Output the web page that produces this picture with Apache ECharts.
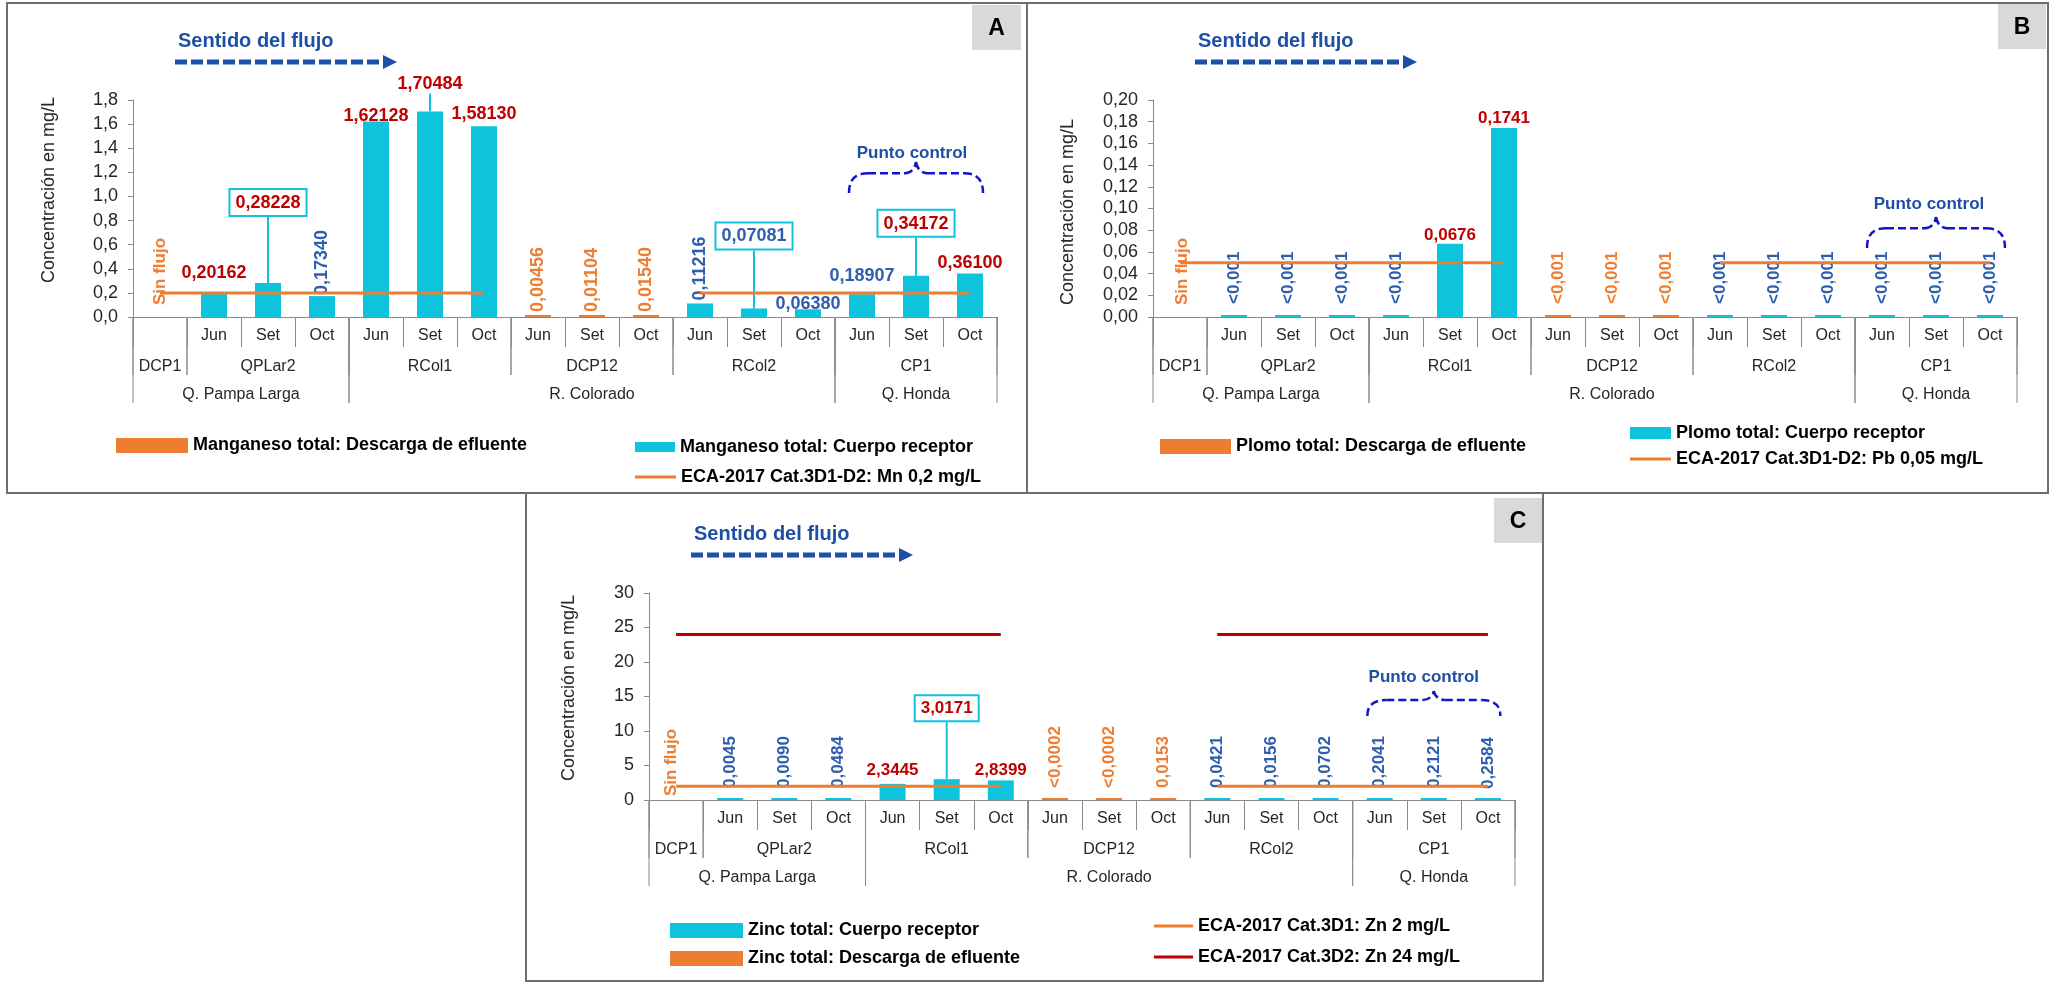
<!DOCTYPE html>
<html lang="es">
<head>
<meta charset="utf-8">
<title>Manganeso, plomo y zinc total</title>
<script src="https://cdn.jsdelivr.net/npm/echarts@6/dist/echarts.min.js"></script>
<style>
  html, body { margin: 0; padding: 0; background: #fff; }
  #chart { width: 2051px; height: 982px; }
</style>
</head>
<body>
<div id="chart"></div>
<script>
// ---- Sampling points ----
const stations = ['DCP1', 'QPLar2', 'RCol1', 'DCP12', 'RCol2', 'CP1'];
const stationMonths = [[''], ['Jun', 'Set', 'Oct'], ['Jun', 'Set', 'Oct'], ['Jun', 'Set', 'Oct'], ['Jun', 'Set', 'Oct'], ['Jun', 'Set', 'Oct']];
const streams = ['Q. Pampa Larga', 'R. Colorado', 'Q. Honda'];
const streamStations = [['DCP1', 'QPLar2'], ['RCol1', 'DCP12', 'RCol2'], ['CP1']];

// ---- Reported concentrations (mg/L), one entry per station/month; '<' = below detection limit ----
const mnDescarga = [null, null, null, null, null, null, null, '0.00456', '0.01104', '0.01540', null, null, null, null, null, null];
const mnReceptor = [null, '0.20162', '0.28228', '0.17340', '1.62128', '1.70484', '1.58130', null, null, null, '0.11216', '0.07081', '0.06380', '0.18907', '0.34172', '0.36100'];
const mnEca = [0.2, 0.2, 0.2, 0.2, 0.2, 0.2, 0.2, null, null, null, 0.2, 0.2, 0.2, 0.2, 0.2, 0.2];

const pbDescarga = [null, null, null, null, null, null, null, '<0.001', '<0.001', '<0.001', null, null, null, null, null, null];
const pbReceptor = [null, '<0.001', '<0.001', '<0.001', '<0.001', '0.0676', '0.1741', null, null, null, '<0.001', '<0.001', '<0.001', '<0.001', '<0.001', '<0.001'];
const pbEca = [0.05, 0.05, 0.05, 0.05, 0.05, 0.05, 0.05, null, null, null, 0.05, 0.05, 0.05, 0.05, 0.05, 0.05];

const znDescarga = [null, null, null, null, null, null, null, '<0.0002', '<0.0002', '0.0153', null, null, null, null, null, null];
const znReceptor = [null, '0.0045', '0.0090', '0.0484', '2.3445', '3.0171', '2.8399', null, null, null, '0.0421', '0.0156', '0.0702', '0.2041', '0.2121', '0.2584'];
const znEcaD1 = [2, 2, 2, 2, 2, 2, 2, null, null, null, 2, 2, 2, 2, 2, 2];
const znEcaD2 = [24, 24, 24, 24, 24, 24, 24, null, null, null, 24, 24, 24, 24, 24, 24];

// ---- Value-label placement per category (pixels relative to the bar top) ----
const V = (gap) => ({ kind: 'v', gap });
const mnPlacement = [null,
  { kind: 'h', gap: 11, dx: 7 }, { kind: 'box', lift: 68 }, V(1),
  { kind: 'h', gap: -3, dx: -3 }, { kind: 'lead', lift: 18 }, { kind: 'h', gap: 3, dx: 4 },
  V(3), V(3), V(3),
  V(3), { kind: 'box', lift: 60 }, { kind: 'h', gap: -4, dx: -2 },
  { kind: 'h', gap: 9, dx: 0 }, { kind: 'box', lift: 40 }, { kind: 'h', gap: 1.5, dx: 1 }];
const pbPlacement = [null,
  V(11), V(11), V(11),
  V(11), { kind: 'h', gap: 0, dx: -3 }, { kind: 'h', gap: 1.5, dx: 3 },
  V(11), V(11), V(11),
  V(11), V(11), V(11),
  V(11), V(11), V(11)];
const znPlacement = [null,
  V(10), V(10), V(10),
  { kind: 'h', gap: 5, dx: 0 }, { kind: 'box', lift: 59 }, { kind: 'h', gap: 2, dx: -14 },
  V(10), V(10), V(10),
  V(10), V(10), V(10),
  V(10), V(10), V(9)];

// ---- Styling ----
const FONT = "'Liberation Sans', Arial, Helvetica, sans-serif";
const CYAN = '#0dc4dc';
const ORANGE = '#ed7d31';
const RED = '#c00000';
const BLUE = '#2e5eae';
const NAVY = '#1e4fa6';
const BRACE = '#1414c8';
const AXIS = '#8a8a8a';
const TEXT = '#262626';
const FRAME = '#6e6e6e';

const categories = [];
stations.forEach((s, i) => stationMonths[i].forEach(m => categories.push(s + '|' + m)));

const panels = [
  {
    letter: 'A', metal: 'Manganeso total', descarga: mnDescarga, receptor: mnReceptor, placement: mnPlacement,
    limit: 0.2, standards: [{ name: 'ECA-2017 Cat.3D1-D2: Mn 0,2 mg/L', data: mnEca, color: ORANGE }],
    yMax: 1.8, yStep: 0.2, decimals: 1, labelSize: 18,
    grid: { left: 133, top: 100, width: 864, height: 217 }, nameGap: 75, namePad: [0, 0, 0, 37],
    frame: [7, 3, 1020, 490], letterBox: [972, 5, 49, 45],
    sinFlujo: { dx: 0, lift: 12 }, punto: { textDx: -4, textDy: 53, braceDy: 62, braceH: 31, braceW: 134 },
    legends: [
      { name: 'Manganeso total: Descarga de efluente', left: 116, top: 436.5, w: 72, h: 15 },
      { name: 'Manganeso total: Cuerpo receptor', left: 635, top: 438, w: 40, h: 10 },
      { name: 'ECA-2017 Cat.3D1-D2: Mn 0,2 mg/L', left: 635, top: 468, w: 41, h: 3 }
    ]
  },
  {
    letter: 'B', metal: 'Plomo total', descarga: pbDescarga, receptor: pbReceptor, placement: pbPlacement,
    limit: 0.05, standards: [{ name: 'ECA-2017 Cat.3D1-D2: Pb 0,05 mg/L', data: pbEca, color: ORANGE }],
    yMax: 0.2, yStep: 0.02, decimals: 2, labelSize: 17,
    grid: { left: 1153, top: 100, width: 864, height: 217 }, nameGap: 76, namePad: [0, 7, 0, 0],
    frame: [1027, 3, 1021, 490], letterBox: [1998, 4, 48, 45],
    sinFlujo: { dx: 2, lift: 12 }, punto: { textDx: -7, textDy: 104, braceDy: 117, braceH: 31, braceW: 138 },
    legends: [
      { name: 'Plomo total: Descarga de efluente', left: 1160, top: 437.5, w: 71, h: 15 },
      { name: 'Plomo total: Cuerpo receptor', left: 1630, top: 424, w: 41, h: 12 },
      { name: 'ECA-2017 Cat.3D1-D2: Pb 0,05 mg/L', left: 1630, top: 450, w: 41, h: 3 }
    ]
  },
  {
    letter: 'C', metal: 'Zinc total', descarga: znDescarga, receptor: znReceptor, placement: znPlacement,
    limit: 2, standards: [
      { name: 'ECA-2017 Cat.3D1: Zn 2 mg/L', data: znEcaD1, color: ORANGE },
      { name: 'ECA-2017 Cat.3D2: Zn 24 mg/L', data: znEcaD2, color: RED }
    ],
    yMax: 30, yStep: 5, decimals: 0, labelSize: 17,
    grid: { left: 649, top: 593, width: 866, height: 207 }, nameGap: 71, namePad: [0, 0, 0, 17],
    frame: [526, 493, 1017, 488], letterBox: [1494, 498, 48, 45],
    sinFlujo: { dx: -5, lift: 4 }, punto: { textDx: -10, textDy: 84, braceDy: 98, braceH: 25, braceW: 133 },
    legends: [
      { name: 'Zinc total: Cuerpo receptor', left: 670, top: 921.5, w: 73, h: 15 },
      { name: 'Zinc total: Descarga de efluente', left: 670, top: 949.5, w: 73, h: 15 },
      { name: 'ECA-2017 Cat.3D1: Zn 2 mg/L', left: 1154, top: 917, w: 39, h: 3 },
      { name: 'ECA-2017 Cat.3D2: Zn 24 mg/L', left: 1154, top: 948, w: 39, h: 3 }
    ]
  }
];

const parseReported = s => parseFloat(s.replace('<', ''));
const toComma = s => s.replace('.', ',');

function makeItem(s, pl, role, p) {
  if (s == null) return null;
  const v = parseReported(s);
  const color = role === 'descarga' ? ORANGE : (v > p.limit ? RED : BLUE);
  const label = {
    show: true, formatter: toComma(s), color, fontWeight: 'bold',
    fontSize: p.labelSize, fontFamily: FONT, position: 'top'
  };
  const item = { value: v, label };
  if (pl.kind === 'v') {
    Object.assign(label, { rotate: 90, align: 'left', verticalAlign: 'middle', distance: pl.gap });
  } else if (pl.kind === 'h') {
    Object.assign(label, { distance: pl.gap, offset: [pl.dx || 0, 0] });
  } else if (pl.kind === 'box') {
    Object.assign(label, { distance: 0, backgroundColor: '#ffffff', borderColor: CYAN, borderWidth: 2, padding: [4, 5, 3, 5] });
    item.labelLine = { show: true, length2: 0, lineStyle: { color: CYAN, width: 2 } };
  } else if (pl.kind === 'lead') {
    Object.assign(label, { distance: 0 });
    item.labelLine = { show: true, length2: 0, lineStyle: { color: CYAN, width: 2 } };
  }
  return item;
}

function barSeries(p, g, role) {
  const reported = role === 'descarga' ? p.descarga : p.receptor;
  return {
    type: 'bar',
    name: p.metal + (role === 'descarga' ? ': Descarga de efluente' : ': Cuerpo receptor'),
    xAxisIndex: g, yAxisIndex: g,
    barWidth: 26, barGap: '-100%', barMinHeight: 2,
    itemStyle: { color: role === 'descarga' ? ORANGE : CYAN },
    data: reported.map((s, i) => makeItem(s, p.placement[i], role, p)),
    labelLayout: params => {
      const pl = p.placement[params.dataIndex];
      return pl && pl.lift ? { dy: -pl.lift } : {};
    }
  };
}

const grids = [], xAxes = [], yAxes = [], series = [], legends = [];
panels.forEach((p, g) => {
  grids.push(Object.assign({ containLabel: false }, p.grid));
  xAxes.push({
    type: 'category', gridIndex: g, data: categories, boundaryGap: true,
    axisLine: { lineStyle: { color: AXIS, width: 1 } },
    axisTick: { show: true, interval: 0, length: 30, lineStyle: { color: AXIS, width: 1 } },
    axisLabel: {
      interval: 0, margin: 11, fontSize: 16, color: TEXT, fontFamily: FONT,
      formatter: v => v.split('|')[1]
    }
  });
  yAxes.push({
    type: 'value', gridIndex: g, min: 0, max: p.yMax, interval: p.yStep,
    axisLine: { show: true, lineStyle: { color: AXIS, width: 1 } },
    axisTick: { show: true, length: 5, lineStyle: { color: AXIS } },
    splitLine: { show: false },
    axisLabel: {
      margin: 15, fontSize: 18, color: TEXT, fontFamily: FONT,
      formatter: v => v.toFixed(p.decimals).replace('.', ',')
    },
    name: 'Concentración en mg/L', nameLocation: 'middle', nameGap: p.nameGap,
    nameTextStyle: { fontSize: 18, color: TEXT, fontFamily: FONT, padding: p.namePad }
  });
  series.push(barSeries(p, g, 'descarga'));
  series.push(barSeries(p, g, 'receptor'));
  p.standards.forEach(st => series.push({
    type: 'line', name: st.name, xAxisIndex: g, yAxisIndex: g, data: st.data,
    symbol: 'none', connectNulls: false, silent: true, z: 3,
    lineStyle: { color: st.color, width: 3 }, itemStyle: { color: st.color }
  }));
  p.legends.forEach(l => legends.push({
    data: [{ name: l.name, icon: 'rect' }],
    left: l.left, top: l.top, padding: 0, itemWidth: l.w, itemHeight: l.h,
    selectedMode: false,
    textStyle: { fontSize: 18, fontWeight: 'bold', color: '#000', fontFamily: FONT }
  }));
});

const chart = echarts.init(document.getElementById('chart'), null, { renderer: 'canvas' });
chart.setOption({
  animation: false,
  backgroundColor: '#ffffff',
  grid: grids, xAxis: xAxes, yAxis: yAxes, legend: legends, series
});

// ---- Annotations and the grouped category axis, placed through the chart's own coordinate system ----
function text(x, y, str, o) {
  return {
    type: 'text', x, y, rotation: o.rot || 0, silent: true, z: 10,
    style: {
      text: str, x: 0, y: 0, fill: o.color || TEXT,
      font: (o.weight || 'normal') + ' ' + o.size + 'px ' + FONT,
      textAlign: o.align || 'center', textVerticalAlign: o.valign || 'middle',
      align: o.align || 'center', verticalAlign: o.valign || 'middle'
    }
  };
}
const line = (x1, y1, x2, y2, stroke, w, dash) => ({
  type: 'line', silent: true, z: 10, shape: { x1, y1, x2, y2 },
  style: { stroke, lineWidth: w, lineDash: dash || null }
});
const curve = (x1, y1, cpx1, cpy1, cpx2, cpy2, x2, y2, stroke, w, dash) => ({
  type: 'bezierCurve', silent: true, z: 10, shape: { x1, y1, cpx1, cpy1, cpx2, cpy2, x2, y2 },
  style: { stroke, fill: null, lineWidth: w, lineDash: dash || null }
});

// dashed curly bracket opening downwards, peak at (cx, top)
function bracket(cx, top, W, H) {
  const mid = top + H * 0.36, bot = top + H, L = cx - W / 2, R = cx + W / 2;
  const st = [BRACE, 2.5, [8, 4]];
  return [
    curve(L, bot, L, mid + H * 0.25, L + 5, mid, L + 19, mid, ...st),
    line(L + 19, mid, cx - 11, mid, ...st),
    curve(cx - 11, mid, cx - 5, mid, cx - 1, mid - H * 0.15, cx, top, ...st),
    curve(cx, top, cx + 1, mid - H * 0.15, cx + 5, mid, cx + 11, mid, ...st),
    line(cx + 11, mid, R - 19, mid, ...st),
    curve(R - 19, mid, R - 5, mid, R, mid + H * 0.25, R, bot, ...st)
  ];
}

const graphics = [];
panels.forEach((p, g) => {
  const c0 = chart.convertToPixel({ gridIndex: g }, [0, 0]);
  const c1 = chart.convertToPixel({ gridIndex: g }, [1, 0]);
  const bw = c1[0] - c0[0];
  const y0 = c0[1];
  const edge = i => c0[0] - bw / 2 + i * bw;
  const center = i => c0[0] + i * bw;

  // frame and panel letter
  const [fx, fy, fw, fh] = p.frame;
  graphics.push({ type: 'rect', silent: true, z: 1, shape: { x: fx, y: fy, width: fw, height: fh }, style: { fill: 'none', stroke: FRAME, lineWidth: 2 } });
  const [lx, ly, lw, lh] = p.letterBox;
  graphics.push({ type: 'rect', silent: true, z: 1, shape: { x: lx, y: ly, width: lw, height: lh }, style: { fill: '#d9d9d9' } });
  graphics.push(text(lx + lw / 2, ly + lh / 2 + 1, p.letter, { size: 23, weight: 'bold', color: '#000' }));

  // station row and stream row
  const span = {};
  let k = 0;
  stations.forEach((s, i) => {
    const n = stationMonths[i].length;
    span[s] = [k, k + n];
    graphics.push(text((edge(k) + edge(k + n)) / 2, y0 + 50, s, { size: 16 }));
    graphics.push(line(edge(k), y0, edge(k), y0 + 58, AXIS, 1));
    graphics.push(line(edge(k + n), y0, edge(k + n), y0 + 58, AXIS, 1));
    k += n;
  });
  streams.forEach((r, i) => {
    const list = streamStations[i];
    const a = span[list[0]][0];
    const b = span[list[list.length - 1]][1];
    graphics.push(text((edge(a) + edge(b)) / 2, y0 + 78, r, { size: 16 }));
    graphics.push(line(edge(a), y0, edge(a), y0 + 86, AXIS, 1));
    graphics.push(line(edge(b), y0, edge(b), y0 + 86, AXIS, 1));
  });

  // no-flow note at the first discharge point
  graphics.push(text(center(0) + p.sinFlujo.dx, y0 - p.sinFlujo.lift, 'Sin flujo',
    { size: 17, weight: 'bold', color: ORANGE, rot: Math.PI / 2, align: 'left' }));

  // flow direction
  const gl = p.grid.left, gt = p.grid.top;
  graphics.push(text(gl + 45, gt - 59, 'Sentido del flujo', { size: 20, weight: 'bold', color: NAVY, align: 'left' }));
  const tip = gl + 264, ay = gt - 38;
  graphics.push(line(gl + 42, ay, tip - 13, ay, NAVY, 5, [12, 4]));
  graphics.push({ type: 'polygon', silent: true, z: 10, shape: { points: [[tip - 14, ay - 7], [tip, ay], [tip - 14, ay + 7]] }, style: { fill: NAVY } });

  // control point bracket over CP1
  const cp = span['CP1'];
  const cx = (edge(cp[0]) + edge(cp[1])) / 2;
  graphics.push(text(cx + p.punto.textDx, gt + p.punto.textDy, 'Punto control', { size: 17, weight: 'bold', color: NAVY }));
  bracket(cx, gt + p.punto.braceDy, p.punto.braceW, p.punto.braceH).forEach(el => graphics.push(el));
});
chart.setOption({ graphic: { elements: graphics } });
</script>
</body>
</html>
